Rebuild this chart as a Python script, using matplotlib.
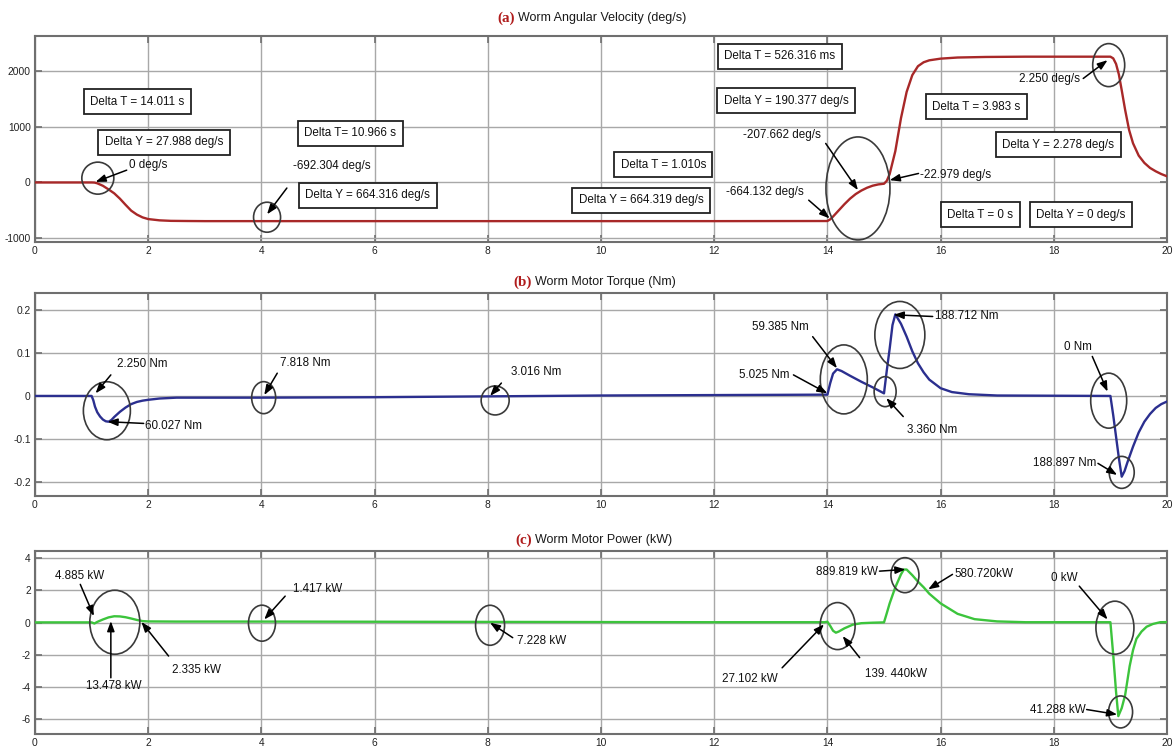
import matplotlib
matplotlib.use('Agg')
import matplotlib.pyplot as plt
from matplotlib import font_manager
from matplotlib.patches import Ellipse
from matplotlib.transforms import ScaledTranslation

# ---------------- data ----------------
t_vel = [0, 1.0, 1.05, 1.1, 1.2, 1.3, 1.4, 1.5, 1.6, 1.7, 1.8, 1.9, 2.0, 2.2, 2.4,
         2.7, 3.0, 4.0, 8.0, 12.0, 14.0, 14.05, 14.1, 14.2, 14.3, 14.4, 14.5, 14.6,
         14.7, 14.8, 14.9, 15.0, 15.05, 15.1, 15.2, 15.3, 15.4, 15.5, 15.6, 15.7,
         15.8, 16.0, 16.3, 16.8, 17.5, 18.5, 19.0, 19.05, 19.1, 19.15, 19.2, 19.26,
         19.33, 19.4, 19.5, 19.6, 19.7, 19.8, 19.9, 20.0]
vel = [0, 0, -2, -15, -60, -125, -195, -290, -400, -505, -575, -625, -655, -678,
       -687, -690, -692, -692, -692, -692, -690, -660, -610, -500, -390, -290,
       -208, -145, -95, -58, -35, -23, 30, 150, 560, 1150, 1620, 1920, 2080,
       2150, 2185, 2215, 2235, 2245, 2250, 2250, 2250, 2220, 2120, 1930, 1650,
       1300, 940, 700, 480, 350, 260, 200, 150, 110]

t_trq = [0, 1.0, 1.03, 1.06, 1.1, 1.15, 1.2, 1.25, 1.3, 1.35, 1.4, 1.5, 1.6, 1.7,
         1.8, 1.9, 2.0, 2.2, 2.5, 3.0, 4.0, 6.0, 8.0, 10.0, 12.0, 14.0, 14.05,
         14.1, 14.17, 14.25, 14.4, 14.6, 14.8, 15.0, 15.05, 15.1, 15.15, 15.2,
         15.3, 15.4, 15.5, 15.6, 15.7, 15.8, 16.0, 16.2, 16.5, 17.0, 19.0, 19.05,
         19.1, 19.15, 19.2, 19.25, 19.3, 19.4, 19.5, 19.6, 19.7, 19.8, 19.9, 20.0]
trq = [0, 0, -0.010, -0.025, -0.038, -0.048, -0.055, -0.059, -0.060, -0.056,
       -0.049, -0.037, -0.027, -0.019, -0.014, -0.011, -0.009, -0.006, -0.004,
       -0.004, -0.004, -0.003, -0.001, 0.001, 0.002, 0.003, 0.030, 0.052, 0.062,
       0.058, 0.047, 0.033, 0.020, 0.006, 0.060, 0.110, 0.165, 0.190, 0.168,
       0.138, 0.104, 0.076, 0.055, 0.038, 0.018, 0.009, 0.004, 0.001, 0.0,
       -0.045, -0.095, -0.145, -0.188, -0.175, -0.155, -0.118, -0.085, -0.060,
       -0.042, -0.028, -0.019, -0.013]

t_pow = [0, 1.0, 1.05, 1.1, 1.2, 1.3, 1.4, 1.5, 1.6, 1.7, 1.8, 1.9, 2.0, 2.5, 4.0,
         8.0, 12.0, 13.95, 14.0, 14.05, 14.1, 14.15, 14.2, 14.3, 14.45, 14.6,
         14.8, 15.0, 15.05, 15.1, 15.2, 15.3, 15.35, 15.4, 15.5, 15.6, 15.7, 15.8,
         16.0, 16.3, 16.6, 17.0, 17.5, 19.0, 19.05, 19.1, 19.14, 19.2, 19.26,
         19.34, 19.4, 19.46, 19.55, 19.64, 19.75, 19.88, 20.0]
pwr = [0.02, 0.02, -0.05, 0.05, 0.2, 0.33, 0.4, 0.39, 0.34, 0.26, 0.17, 0.1, 0.08,
       0.07, 0.07, 0.05, 0.03, 0.03, 0.06, -0.2, -0.5, -0.62, -0.55, -0.35,
       -0.12, -0.03, 0.0, 0.02, 0.6, 1.2, 2.2, 3.0, 3.3, 3.3, 2.95, 2.55, 2.2,
       1.8, 1.2, 0.55, 0.22, 0.08, 0.03, 0.03, -2.0, -4.3, -5.8, -5.3, -4.5,
       -2.7, -1.7, -1.0, -0.55, -0.25, -0.08, 0.03, 0.04]

x_ticks = [0, 2, 4, 6, 8, 10, 12, 14, 16, 18, 20]
vel_ticks = [-1000, 0, 1000, 2000]
trq_ticks = [-0.2, -0.1, 0, 0.1, 0.2]
pow_ticks = [-6, -4, -2, 0, 2, 4]

titles = [('(a)', 'Worm Angular Velocity (deg/s)'),
          ('(b)', 'Worm Motor Torque (Nm)'),
          ('(c)', 'Worm Motor Power (kW)')]

# ---------------- fonts ----------------
names = {f.name for f in font_manager.fontManager.ttflist}
NARROW = 'Liberation Sans Narrow' in names
SANS = 'Liberation Sans Narrow' if NARROW else 'Liberation Sans'
if NARROW:
    FS, TICK_FS, TITLE_FS = 10.0, 8.9, 10.8
else:
    FS, TICK_FS, TITLE_FS = 8.4, 7.4, 9.0
plt.rcParams['font.family'] = [SANS, 'DejaVu Sans']
plt.rcParams['axes.unicode_minus'] = False

W, H = 1173, 753
fig = plt.figure(figsize=(W / 100, H / 100), dpi=100)


def make_ax(top_px, bot_px):
    left, right = 35, 1167
    ax = fig.add_axes([left / W, 1 - bot_px / H, (right - left) / W,
                       (bot_px - top_px) / H])
    ax.set_xlim(0, 20)
    ax.set_xticks(x_ticks)
    ax.grid(True, color='#a8a8a8', lw=1.0)
    ax.set_axisbelow(True)
    for s in ax.spines.values():
        s.set_color('#6f6f6f')
        s.set_linewidth(1.5)
    ax.tick_params(direction='in', length=5, width=1.2, color='#6f6f6f',
                   top=True, right=True, labelsize=TICK_FS,
                   labelcolor='#222222', pad=3)
    return ax


axa = make_ax(36, 241.7)
axb = make_ax(293.3, 496)
axc = make_ax(550.7, 734)

axa.plot(t_vel, vel, color='#a82828', lw=1.7, zorder=3)
axb.plot(t_trq, trq, color='#2b2f8f', lw=1.7, zorder=3)
axc.plot(t_pow, pwr, color='#3cc43c', lw=1.7, zorder=3)

axa.set_yticks(vel_ticks)
axa.set_ylim(-1060, 2620)
axb.set_yticks(trq_ticks)
axb.set_yticklabels(['-0.2', '-0.1', '0', '0.1', '0.2'])
axb.set_ylim(-0.233, 0.239)
axc.set_yticks(pow_ticks)
axc.set_ylim(-6.91, 4.47)

# ---------------- titles ----------------
title_pos = [(0.976, 515, 518), (0.6255, 532, 535), (0.2829, 532, 535)]
for (lab, txt), (yf, xr, xl) in zip(titles, title_pos):
    fig.text(xr / W, yf, lab, color='#b01c1c', family='Liberation Serif',
             fontweight='bold', fontsize=10.8, ha='right', va='center')
    fig.text(xl / W, yf, txt, color='#1a1a1a', fontsize=TITLE_FS,
             ha='left', va='center')


def circ(ax, t, v, w, h):
    tr = fig.dpi_scale_trans + ScaledTranslation(t, v, ax.transData)
    e = Ellipse((0, 0), w / 100, h / 100, transform=tr, fill=False,
                ec='#3a3a3a', lw=1.2, clip_on=False, zorder=5)
    ax.add_patch(e)


def arrow(ax, head, tail):
    ax.annotate('', xy=head, xytext=tail,
                arrowprops=dict(arrowstyle='-|>,head_length=0.6,head_width=0.22',
                                color='black', lw=1.1, shrinkA=0, shrinkB=0),
                zorder=6)


def label(ax, t, v, s, ha='left'):
    ax.text(t, v, s, ha=ha, va='center', fontsize=FS, color='#111111',
            zorder=6)


def box(ax, t, v, s):
    ax.text(t, v, s, ha='center', va='center', fontsize=FS, color='#111111',
            zorder=7,
            bbox=dict(boxstyle='square,pad=0.55', fc='white', ec='#222222',
                      lw=1.3))


# ---------------- panel (a) ----------------
box(axa, 1.81, 1445, 'Delta T = 14.011 s')
box(axa, 2.28, 718, 'Delta Y = 27.988 deg/s')
box(axa, 5.57, 882, 'Delta T= 10.966 s')
box(axa, 5.88, -227, 'Delta Y = 664.316 deg/s')
box(axa, 11.1, 318, 'Delta T = 1.010s')
box(axa, 10.71, -317, 'Delta Y = 664.319 deg/s')
box(axa, 13.16, 2260, 'Delta T = 526.316 ms')
box(axa, 13.27, 1463, 'Delta Y = 190.377 deg/s')
box(axa, 16.63, 1356, 'Delta T = 3.983 s')
box(axa, 18.08, 676, 'Delta Y = 2.278 deg/s')
box(axa, 16.7, -576, 'Delta T = 0 s')
box(axa, 18.48, -576, 'Delta Y = 0 deg/s')

circ(axa, 1.11, 77, 32, 32)
label(axa, 1.66, 320, '0 deg/s')
arrow(axa, (1.07, 10), (1.62, 220))

circ(axa, 4.1, -622, 27, 30)
label(axa, 4.56, 292, '-692.304 deg/s')
arrow(axa, (4.1, -570), (4.45, -100))

circ(axa, 14.54, -107, 64, 103)
label(axa, 12.51, 845, '-207.662 deg/s')
arrow(axa, (14.54, -138), (13.97, 698))
label(axa, 12.2, -168, '-664.132 deg/s')
arrow(axa, (14.04, -644), (13.67, -317))
label(axa, 15.64, 131, '-22.979 deg/s')
arrow(axa, (15.1, 41), (15.61, 161))

circ(axa, 18.97, 2099, 32, 43)
label(axa, 17.38, 1848, '2.250 deg/s')
arrow(axa, (18.95, 2188), (18.52, 1860))

# ---------------- panel (b) ----------------
circ(axb, 1.27, -0.0345, 47, 58)
label(axb, 1.44, 0.0746, '2.250 Nm')
arrow(axb, (1.07, 0.006), (1.34, 0.049))
label(axb, 1.95, -0.069, '60.027 Nm')
arrow(axb, (1.28, -0.060), (1.92, -0.064))

circ(axb, 4.04, -0.004, 24, 32)
label(axb, 4.32, 0.076, '7.818 Nm')
arrow(axb, (4.05, 0.002), (4.28, 0.053))

circ(axb, 8.13, -0.0105, 28, 29)
label(axb, 8.41, 0.0567, '3.016 Nm')
arrow(axb, (8.04, 0.0), (8.24, 0.030))

circ(axb, 14.29, 0.0385, 47, 69)
label(axb, 12.67, 0.1616, '59.385 Nm')
arrow(axb, (14.17, 0.0645), (13.74, 0.138))
label(axb, 12.43, 0.049, '5.025 Nm')
arrow(axb, (14.0, 0.006), (13.4, 0.049))

circ(axb, 15.02, 0.01, 22, 30)
label(axb, 15.41, -0.079, '3.360 Nm')
arrow(axb, (15.04, -0.005), (15.34, -0.048))

circ(axb, 15.28, 0.142, 50, 67)
label(axb, 15.9, 0.185, '188.712 Nm')
arrow(axb, (15.17, 0.189), (15.86, 0.185))

circ(axb, 18.97, -0.011, 36, 55)
label(axb, 18.18, 0.113, '0 Nm')
arrow(axb, (18.95, 0.01), (18.68, 0.092))

circ(axb, 19.2, -0.178, 25, 32)
label(axb, 18.76, -0.155, '188.897 Nm', ha='right')
arrow(axb, (19.12, -0.184), (18.78, -0.157))

# ---------------- panel (c) ----------------
circ(axc, 1.41, 0.03, 50, 64)
label(axc, 0.36, 2.89, '4.885 kW')
arrow(axc, (1.04, 0.41), (0.80, 2.38))
label(axc, 1.39, -3.9, '13.478 kW', ha='center')
arrow(axc, (1.34, 0.1), (1.34, -3.42))
label(axc, 2.42, -2.94, '2.335 kW')
arrow(axc, (1.88, 0.05), (2.36, -2.07))

circ(axc, 4.01, -0.03, 27, 36)
label(axc, 4.55, 2.07, '1.417 kW')
arrow(axc, (4.05, 0.2), (4.42, 1.65))

circ(axc, 8.04, -0.16, 29, 40)
label(axc, 8.51, -1.14, '7.228 kW')
arrow(axc, (8.04, 0.0), (8.44, -0.93))

circ(axc, 14.18, -0.21, 35, 47)
label(axc, 12.13, -3.52, '27.102 kW')
arrow(axc, (13.94, -0.1), (13.2, -2.8))
label(axc, 14.67, -3.21, '139. 440kW')
arrow(axc, (14.27, -0.83), (14.57, -2.17))

circ(axc, 15.37, 2.95, 28, 35)
label(axc, 14.9, 3.15, '889.819 kW', ha='right')
arrow(axc, (15.38, 3.31), (14.92, 3.2))
label(axc, 16.24, 3.0, '580.720kW')
arrow(axc, (15.78, 2.07), (16.21, 3.0))

circ(axc, 19.08, -0.31, 38, 53)
label(axc, 17.95, 2.8, '0 kW')
arrow(axc, (18.95, 0.2), (18.45, 2.27))

circ(axc, 19.18, -5.54, 24, 32)
label(axc, 18.57, -5.39, '41.288 kW', ha='right')
arrow(axc, (19.12, -5.7), (18.58, -5.39))

fig.savefig('out.png', dpi=100)
